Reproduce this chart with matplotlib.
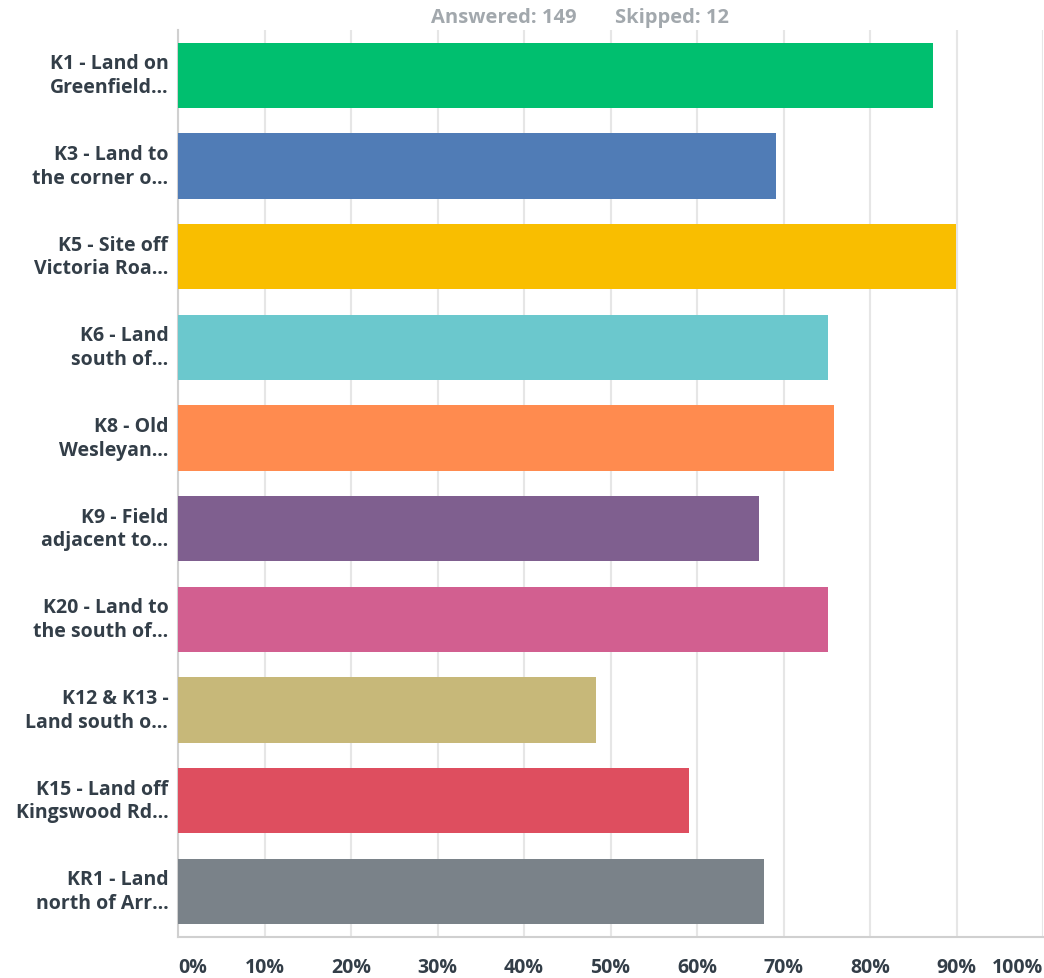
import matplotlib.pyplot as plt

# survey answers: share of 149 respondents per site
labels = [
    "K1 - Land on\nGreenfield\u2026",
    "K3 - Land to\nthe corner o\u2026",
    "K5 - Site off\nVictoria Roa\u2026",
    "K6 - Land\nsouth of\u2026",
    "K8 - Old\nWesleyan\u2026",
    "K9 - Field\nadjacent to\u2026",
    "K20 - Land to\nthe south of\u2026",
    "K12 & K13 -\nLand south o\u2026",
    "K15 - Land off\nKingswood Rd\u2026",
    "KR1 - Land\nnorth of Arr\u2026",
]
values = [87.25, 69.13, 89.93, 75.17, 75.84, 67.11, 75.17, 48.32, 59.06, 67.79]
colors = ["#00BF6F", "#507CB6", "#F9BE00", "#6BC8CD", "#FF8B4F",
          "#7F5F8F", "#D25F90", "#C7B879", "#DE4E5F", "#7A8289"]
ticks = list(range(0, 101, 10))
tick_labels = [f"{t}%" for t in ticks]

plt.rcParams["font.family"] = ["Open Sans", "DejaVu Sans"]
text_col = "#333E48"

fig = plt.figure(figsize=(10.44, 9.79), dpi=100)
ax = fig.add_axes([178 / 1044, 1 - 937.5 / 979, 865 / 1044, 906.5 / 979])

ypos = range(len(labels))
ax.barh(ypos, values, height=0.72, color=colors, zorder=3)
ax.set_ylim(len(labels) - 0.5, -0.5)
ax.set_xlim(0, 100)

ax.set_xticks(ticks)
ax.set_xticklabels(tick_labels, fontsize=14, fontweight="bold", color=text_col)
for i, lab in enumerate(ax.get_xticklabels()):
    if i == 0:
        lab.set_ha("left")
    elif i == len(ticks) - 1:
        lab.set_ha("right")
ax.tick_params(axis="x", length=0, pad=15)
ax.set_yticks(list(ypos))
ax.set_yticklabels(labels, fontsize=14, fontweight="bold", color=text_col,
                   linespacing=1.25, va="center")
ax.tick_params(axis="y", length=0, pad=7)

ax.grid(axis="x", color="#E6E6E6", linewidth=1.5, zorder=0)
for side in ["top", "right"]:
    ax.spines[side].set_visible(False)
ax.spines["left"].set_color("#D0D0D0")
ax.spines["bottom"].set_color("#D0D0D0")
ax.spines["left"].set_linewidth(1.5)
ax.spines["bottom"].set_linewidth(1.5)

fig.text(504 / 1044, 1 - 18 / 979, "Answered: 149", ha="center", va="center",
         fontsize=14.5, fontweight="bold", color="#A2A8AD")
fig.text(672 / 1044, 1 - 18 / 979, "Skipped: 12", ha="center", va="center",
         fontsize=14.5, fontweight="bold", color="#A2A8AD")

fig.savefig("out.png", dpi=100)
